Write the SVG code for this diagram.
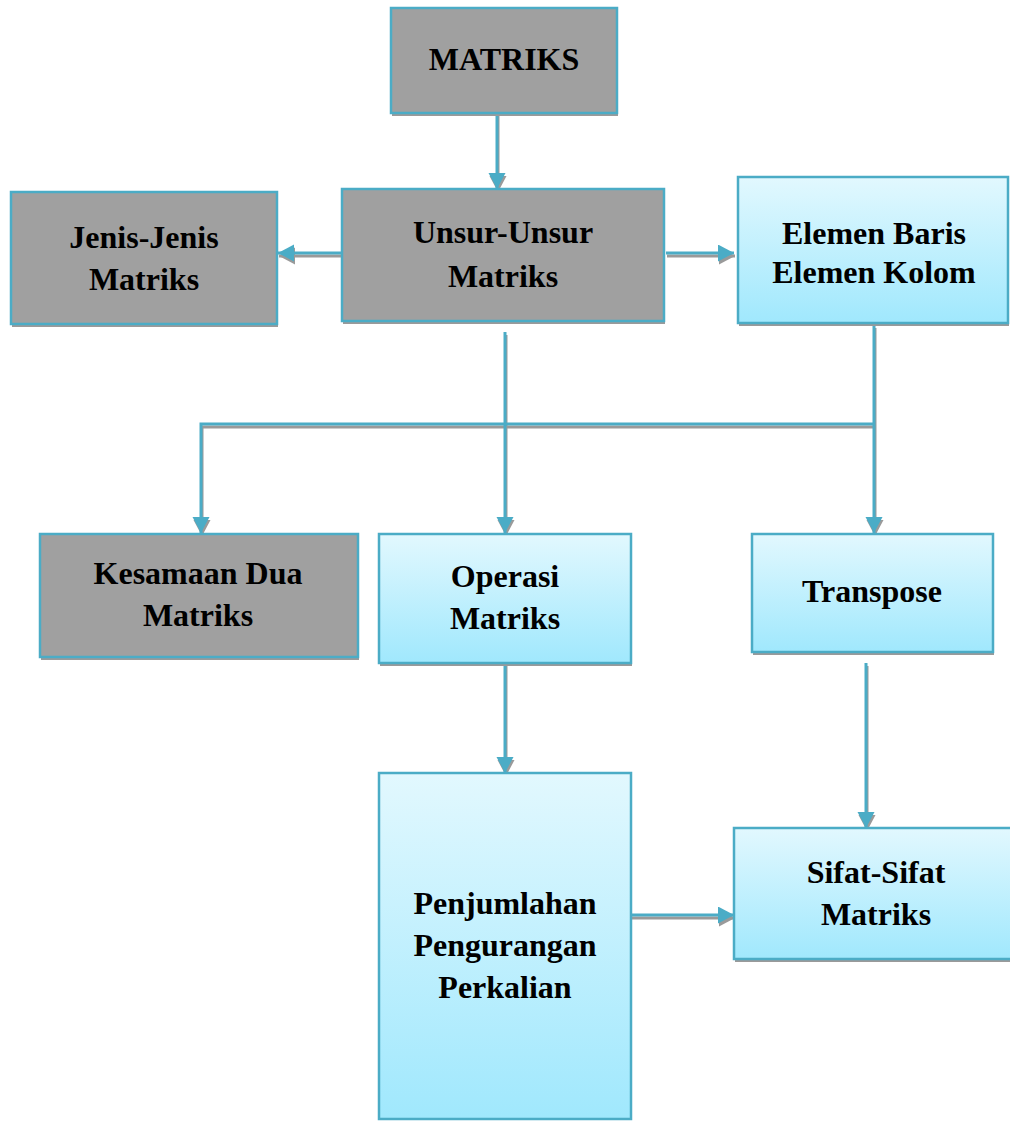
<svg xmlns="http://www.w3.org/2000/svg" width="1010" height="1122" viewBox="0 0 1010 1122">
<style>
.shadow{fill:#9a9a9a}
.gray{fill:#a0a0a0;stroke:#4bacc6;stroke-width:2.5}
.blue{fill:url(#bg);stroke:#4bacc6;stroke-width:2.5}
.t{font-family:"Liberation Serif","Times New Roman",serif;font-weight:bold;font-size:32px;fill:#000;text-anchor:middle}
.ln{fill:none;stroke:#4bacc6;stroke-width:3;marker-end:url(#ah)}
.lns{fill:none;stroke:#9a9a9a;stroke-width:3;marker-end:url(#ahs)}
</style>
<defs>
<linearGradient id="bg" x1="0" y1="0" x2="0" y2="1">
<stop offset="0" stop-color="#e2f8fe"/>
<stop offset="1" stop-color="#a0e8fd"/>
</linearGradient>
<marker id="ah" markerUnits="userSpaceOnUse" markerWidth="18" markerHeight="18" refX="16" refY="8.5" orient="auto" viewBox="0 0 18 18">
<path d="M0,0 L16,8.5 L0,17 z" fill="#4bacc6"/>
</marker>
<marker id="ahs" markerUnits="userSpaceOnUse" markerWidth="18" markerHeight="18" refX="16" refY="8.5" orient="auto" viewBox="0 0 18 18">
<path d="M0,0 L16,8.5 L0,17 z" fill="#9a9a9a"/>
</marker>
</defs>
<rect width="1010" height="1122" fill="#fff"/>

<g id="connectors">
<g transform="translate(1,3)">
<path class="lns" d="M497,113 V189"/>
<path class="lns" d="M342,253 H278"/>
<path class="lns" d="M666,253 H734"/>
<path class="lns" d="M505,332 V533"/>
<path class="lns" d="M874,325 V533"/>
<path class="lns" d="M874,424 H201 V533"/>
<path class="lns" d="M505,663 V773"/>
<path class="lns" d="M866,663 V828"/>
<path class="lns" d="M628,915 H734"/>
</g>
<path class="ln" d="M497,113 V189"/>
<path class="ln" d="M342,253 H278"/>
<path class="ln" d="M666,253 H734"/>
<path class="ln" d="M505,332 V533"/>
<path class="ln" d="M874,325 V533"/>
<path class="ln" d="M874,424 H201 V533"/>
<path class="ln" d="M505,663 V773"/>
<path class="ln" d="M866,663 V828"/>
<path class="ln" d="M628,915 H734"/>
</g>

<g id="matriks">
<rect class="shadow" x="392" y="11" width="226" height="105"/>
<rect class="gray" x="391" y="8" width="226" height="105"/>
<text class="t" x="504" y="70">MATRIKS</text>
</g>
<g id="unsur">
<rect class="shadow" x="343" y="192" width="322" height="132"/>
<rect class="gray" x="342" y="189" width="322" height="132"/>
<text class="t" x="503" y="243">Unsur-Unsur</text>
<text class="t" x="503" y="287">Matriks</text>
</g>
<g id="jenis">
<rect class="shadow" x="12" y="195" width="266" height="132"/>
<rect class="gray" x="11" y="192" width="266" height="132"/>
<text class="t" x="144" y="248">Jenis-Jenis</text>
<text class="t" x="144" y="290">Matriks</text>
</g>
<g id="elemen">
<rect class="shadow" x="739" y="180" width="270" height="146"/>
<rect class="blue" x="738" y="177" width="270" height="146"/>
<text class="t" x="874" y="244">Elemen Baris</text>
<text class="t" x="874" y="283">Elemen Kolom</text>
</g>
<g id="kesamaan">
<rect class="shadow" x="41" y="537" width="318" height="123"/>
<rect class="gray" x="40" y="534" width="318" height="123"/>
<text class="t" x="198" y="584">Kesamaan Dua</text>
<text class="t" x="198" y="626">Matriks</text>
</g>
<g id="operasi">
<rect class="shadow" x="380" y="537" width="252" height="129"/>
<rect class="blue" x="379" y="534" width="252" height="129"/>
<text class="t" x="505" y="587">Operasi</text>
<text class="t" x="505" y="629">Matriks</text>
</g>
<g id="transpose">
<rect class="shadow" x="753" y="537" width="241" height="118"/>
<rect class="blue" x="752" y="534" width="241" height="118"/>
<text class="t" x="872" y="602">Transpose</text>
</g>
<g id="penjumlahan">
<rect class="blue" x="379" y="773" width="252" height="346"/>
<text class="t" x="505" y="914">Penjumlahan</text>
<text class="t" x="505" y="956">Pengurangan</text>
<text class="t" x="505" y="998">Perkalian</text>
</g>
<g id="sifat">
<rect class="shadow" x="735" y="831" width="276" height="131"/>
<rect class="blue" x="734" y="828" width="278" height="131"/>
<text class="t" x="876" y="883">Sifat-Sifat</text>
<text class="t" x="876" y="925">Matriks</text>
</g>
</svg>
